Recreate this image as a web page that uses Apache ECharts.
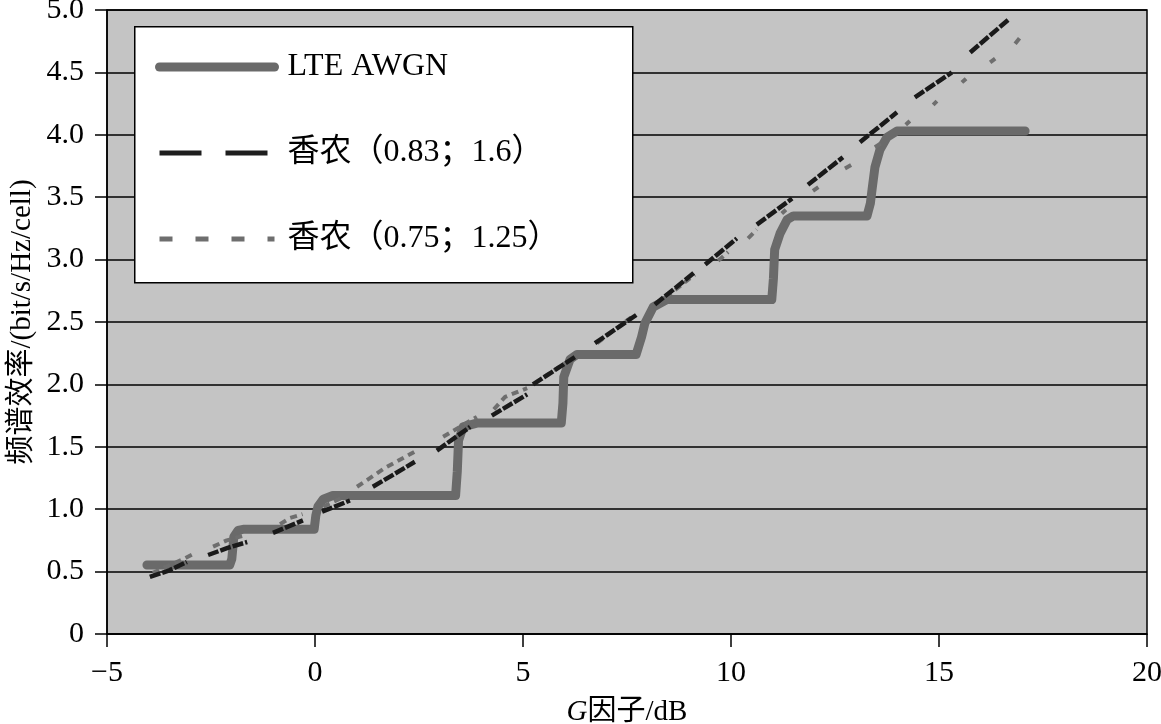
<!DOCTYPE html>
<html><head><meta charset="utf-8">
<script src="https://cdn.jsdelivr.net/npm/echarts@6/dist/echarts.min.js"></script>
<style>html,body{margin:0;padding:0;background:#fff}#c{width:1161px;height:724px}</style>
</head><body><div id="c"></div>
<script>
const FONT = "'Liberation Serif','Times New Roman','Noto Sans CJK SC',serif";
const seriesNames = ['LTE AWGN', '香农（0.83；1.6）', '香农（0.75；1.25）'];
const xTicks = { min: -5, max: 20, step: 5 };
const yTicks = { min: 0, max: 5, step: 0.5 };

const lteAwgn = [[-4.04,0.553],[-2.05,0.553],[-2.0,0.60],[-1.95,0.78],[-1.85,0.83],[-1.7,0.84],[-0.02,0.84],[0.02,0.95],[0.07,1.02],[0.2,1.08],[0.43,1.11],[3.38,1.11],[3.42,1.3],[3.45,1.55],[3.56,1.66],[3.89,1.69],[5.92,1.69],[5.96,1.85],[5.98,2.06],[6.13,2.2],[6.30,2.24],[7.72,2.24],[7.85,2.38],[7.93,2.49],[8.13,2.62],[8.46,2.68],[10.98,2.68],[11.02,2.85],[11.05,3.08],[11.18,3.21],[11.35,3.32],[11.5,3.35],[13.27,3.35],[13.35,3.45],[13.39,3.56],[13.46,3.74],[13.58,3.88],[13.75,3.98],[13.99,4.03],[17.07,4.03]];

const shannon083 = [[-3.97,0.457],[-3.5,0.51],[-3.08,0.577],['-','-'],[-2.57,0.633],[-2.1,0.69],[-1.63,0.737],['-','-'],[-1.01,0.81],[-0.29,0.91],['-','-'],[0.17,0.98],[0.84,1.07],['-','-'],[1.39,1.18],[1.9,1.28],[2.40,1.38],['-','-'],[2.93,1.47],[3.73,1.66],['-','-'],[4.25,1.75],[5.10,1.92],['-','-'],[5.24,2.0],[6.25,2.22],['-','-'],[6.73,2.33],[7.74,2.56],['-','-'],[8.17,2.64],[9.13,2.90],['-','-'],[9.38,2.96],[10.14,3.17],['-','-'],[10.62,3.28],[11.47,3.49],['-','-'],[11.85,3.60],[12.69,3.82],['-','-'],[13.10,3.94],[13.99,4.18],['-','-'],[14.42,4.30],[15.31,4.50],['-','-'],[15.75,4.66],[16.66,4.92]];

const shannon075 = [[-3.9,0.49],[-3.17,0.60],[-2.93,0.64],['-','-'],[-2.45,0.70],[-2.12,0.75],[-1.7,0.79],['-','-'],[-0.84,0.88],[-0.6,0.93],[-0.3,0.96],['-','-'],[0.2,1.02],[0.7,1.10],['-','-'],[1.01,1.18],[1.68,1.33],[2.45,1.47],['-','-'],[3.08,1.58],[3.89,1.74],['-','-'],[4.3,1.80],[4.57,1.90],[5.1,1.97],['-','-'],[5.5,2.06],[6.01,2.17],['-','-'],[6.78,2.33],[7.69,2.56],['-','-'],[8.2,2.64],[9.13,2.88],['-','-'],[9.69,2.99],[9.93,3.06],['-','-'],[10.41,3.17],[10.62,3.24],['-','-'],[11.22,3.37],[11.32,3.40],['-','-'],[11.97,3.55],[12.1,3.58],['-','-'],[12.74,3.73],[12.9,3.76],['-','-'],[13.46,3.90],[13.6,3.93],['-','-'],[14.2,4.08],[14.3,4.11],['-','-'],[14.86,4.24],[14.95,4.27],['-','-'],[15.55,4.42],[15.65,4.45],['-','-'],[16.23,4.58],[16.35,4.61],['-','-'],[16.83,4.73],[16.95,4.78]];

const chart = echarts.init(document.getElementById('c'), null, { renderer: 'canvas' });
chart.setOption({
  animation: false,
  backgroundColor: '#ffffff',
  textStyle: { fontFamily: FONT, color: '#000' },
  grid: { left: 107, right: 14, top: 10, bottom: 90, containLabel: false, outerBoundsMode: 'none', show: true, backgroundColor: '#c4c4c4', borderColor: '#000', borderWidth: 1.5 },
  graphic: [{ type: 'rect', left: 134, top: 26, z: 3, shape: { width: 498, height: 256 }, style: { fill: '#fff', stroke: '#000', lineWidth: 1.5 } }],
  legend: {
    orient: 'vertical', left: 155, top: 51, padding: 0, z: 5,
    itemWidth: 115, itemHeight: 30, itemGap: 54,
    textStyle: { fontFamily: FONT, fontSize: 32, color: '#000', padding: [0, 0, 0, 8] },
    data: [
      { name: seriesNames[0], itemStyle: { opacity: 0 }, lineStyle: { width: 9, color: '#6a6a6a', type: 'solid', cap: 'round' } },
      { name: seriesNames[1], itemStyle: { opacity: 0 }, lineStyle: { width: 5, color: '#1e1e1e', type: [42, 24], cap: 'butt' } },
      { name: seriesNames[2], itemStyle: { opacity: 0 }, lineStyle: { width: 5, color: '#6e6e6e', type: [13, 23], cap: 'butt' } }
    ]
  },
  xAxis: {
    type: 'value', min: xTicks.min, max: xTicks.max, interval: xTicks.step,
    name: '{i|G}因子/dB', nameLocation: 'middle', nameGap: 64, nameMoveOverlap: false,
    nameTextStyle: { fontFamily: FONT, fontSize: 29, color: '#000', rich: { i: { fontFamily: FONT, fontSize: 29, fontStyle: 'italic', color: '#000' } } },
    axisLine: { onZero: false, lineStyle: { color: '#000', width: 1.5 } },
    axisTick: { show: true, inside: false, length: 13, lineStyle: { color: '#000', width: 1.5 } },
    axisLabel: { fontFamily: FONT, fontSize: 30, color: '#000', margin: 24, formatter: v => v < 0 ? '\u2212' + Math.abs(v) : String(v) },
    splitLine: { show: false }
  },
  yAxis: {
    type: 'value', min: yTicks.min, max: yTicks.max, interval: yTicks.step,
    name: '频谱效率/(bit/s/Hz/cell)', nameLocation: 'middle', nameGap: 70, nameRotate: 90, nameMoveOverlap: false,
    nameTextStyle: { fontFamily: FONT, fontSize: 29, color: '#000' },
    axisLine: { show: true, onZero: false, lineStyle: { color: '#000', width: 1.5 } },
    axisTick: { show: true, inside: false, length: 12, lineStyle: { color: '#000', width: 1.5 } },
    axisLabel: { fontFamily: FONT, fontSize: 30, color: '#000', margin: 23, formatter: v => v === 0 ? '0' : v.toFixed(1) },
    splitLine: { show: true, lineStyle: { color: '#000', width: 1.5 } }
  },
  series: [
    { name: seriesNames[0], type: 'line', data: lteAwgn, showSymbol: false, symbol: 'none', z: 2,
      lineStyle: { color: '#6a6a6a', width: 9, cap: 'round', join: 'round' }, itemStyle: { color: '#6a6a6a' } },
    { name: seriesNames[2], type: 'line', data: shannon075, showSymbol: false, symbol: 'none', z: 2, connectNulls: false,
      lineStyle: { color: '#6e6e6e', width: 4, type: [7, 5], cap: 'butt' }, itemStyle: { color: '#6e6e6e' } },
    { name: seriesNames[1], type: 'line', data: shannon083, showSymbol: false, symbol: 'none', z: 2, connectNulls: false,
      lineStyle: { color: '#1a1a1a', width: 4.5, type: [11, 2], cap: 'butt' }, itemStyle: { color: '#1a1a1a' } }
  ]
});
</script></body></html>
